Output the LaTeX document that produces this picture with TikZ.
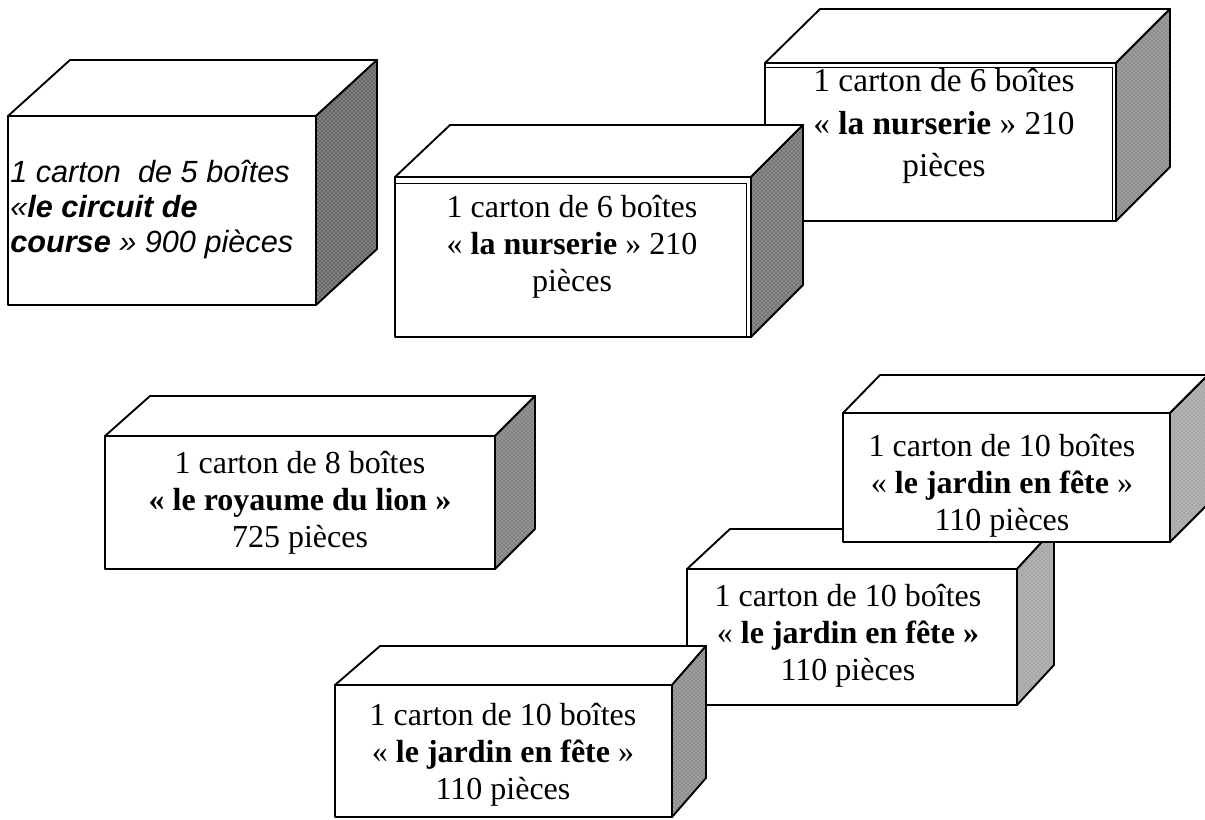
\documentclass[tikz,border=0pt]{standalone}
\usepackage{fontspec}
\setmainfont{Liberation Serif}
\setsansfont{Liberation Sans}
\usetikzlibrary{positioning, patterns}
\tikzset{>=latex}
\tikzset{
  face/.style={draw, line width=1.4pt, fill=white, line join=round},
  side/.style={draw, line width=1.4pt, line join=round},
  inner/.style={line width=0.6pt},
  cartontext/.style={align=center, inner sep=0pt, font=\fontsize{24}{27.75}\selectfont}
}
% front (x1,y1)-(x2,y2), back top left x, back top right x, back top y, shade
\newcommand{\carton}[8]{%
  \draw[face] (#1,#2) -- (#5,#7) -- (#6,#7) -- (#3,#2) -- cycle;
  \fill[#8] (#3,#2) -- (#6,#7) -- (#6,#4-#2+#7) -- (#3,#4) -- cycle;
  \fill[pattern=crosshatch dots, pattern color=white!75!gray] (#3,#2) -- (#6,#7) -- (#6,#4-#2+#7) -- (#3,#4) -- cycle;
  \draw[side] (#3,#2) -- (#6,#7) -- (#6,#4-#2+#7) -- (#3,#4) -- cycle;
  \draw[face] (#1,#2) rectangle (#3,#4);
}

\begin{document}
\begin{tikzpicture}[x=0.75pt, y=-0.75pt]
\clip (0,0) rectangle (1205,819);
\fill[white] (0,0) rectangle (1205,819);

% circuit de course
\carton{8}{116}{316}{305}{70}{377}{60}{black!60}
\node[cartontext, align=left, anchor=west, font=\sffamily\itshape\fontsize{23}{26.25}\selectfont] (circuit) at (10,210)
  {1 carton\ \ de 5 boîtes\\«\textbf{le circuit de}\\\textbf{course} » 900 pièces};

% nurserie, behind
\carton{765}{63}{1116}{221}{820}{1170}{9}{black!45}
\draw[inner] (765,67) -- (1112,67) -- (1112,221);
\node[cartontext, font=\fontsize{25}{32}\selectfont] (nurserieB) at (944,126)
  {1 carton de 6 boîtes\\« \textbf{la nurserie} » 210\\pièces};

% nurserie, front
\carton{395}{177}{751}{337}{450}{803}{125}{black!55}
\draw[inner] (395,183) -- (746,183) -- (746,337);
\node[cartontext] (nurserieA) at (572,247)
  {1 carton de 6 boîtes\\« \textbf{la nurserie} » 210\\pièces};

% royaume du lion
\carton{105}{436}{495}{569}{150}{535}{396}{black!50}
\node[cartontext] (lion) at (300,503)
  {1 carton de 8 boîtes\\\textbf{« le royaume du lion »}\\725 pièces};

% jardin en fete, middle
\carton{687}{569}{1017}{705}{730}{1054}{529}{black!35}
\node[cartontext] (jardinB) at (848,636)
  {1 carton de 10 boîtes\\« \textbf{le jardin en fête »}\\110 pièces};

% jardin en fete, top
\carton{843}{413}{1170}{542}{880}{1208}{375}{black!35}
\node[cartontext] (jardinC) at (1002,486)
  {1 carton de 10 boîtes\\« \textbf{le jardin en fête} »\\110 pièces};

% jardin en fete, bottom
\carton{335}{685}{672}{817}{380}{706}{646}{black!45}
\node[cartontext] (jardinA) at (503,755)
  {1 carton de 10 boîtes\\« \textbf{le jardin en fête} »\\110 pièces};
\end{tikzpicture}
\end{document}
